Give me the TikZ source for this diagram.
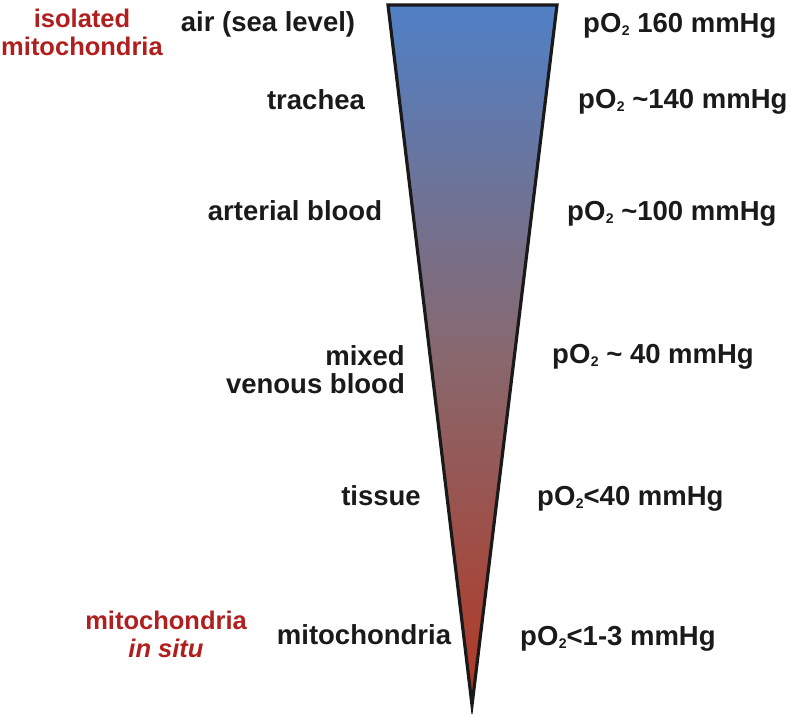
\documentclass[tikz,border=0pt]{standalone}
\usepackage{fontspec}
\setmainfont{Liberation Sans}
\definecolor{topblue}{RGB}{80,128,198}
\definecolor{midtone}{RGB}{136,104,110}
\definecolor{botred}{RGB}{178,56,36}
\definecolor{labred}{RGB}{176,30,30}
\definecolor{labblack}{RGB}{26,26,26}
\tikzset{
  lab/.style={font=\fontsize{27.5}{29}\selectfont\bfseries, text=labblack, inner sep=0pt},
  redlab/.style={lab, font=\fontsize{25.5}{29}\selectfont\bfseries, text=labred, align=center},
  funnel/.style={draw=black!90, line width=3.2pt, line join=miter, top color=topblue, bottom color=botred, middle color=midtone}
}
\newcommand{\poo}{pO\kern0.5pt\raisebox{-3pt}{\fontsize{14}{14}\selectfont 2}}
\begin{document}
\begin{tikzpicture}[x=1pt,y=-1pt]
\useasboundingbox (0,0) rectangle (791,713);
\coordinate (tl) at (388,5);
\coordinate (tr) at (557,5);
\coordinate (apex) at (472,705);
\path[funnel] (tl) -- (tr) -- (apex) -- cycle;
% left labels
\node[redlab, anchor=base] (iso) at (82,55) {isolated\\[-1pt]mitochondria};
\node[lab, anchor=base] (air) at (268,31) {air (sea level)};
\node[lab, anchor=base] (tra) at (316,109) {trachea};
\node[lab, anchor=base] (art) at (295,220) {arterial blood};
\node[lab, anchor=base east, align=right] (ven) at (405,393) {mixed\\[-1pt]venous blood};
\node[lab, anchor=base] (tis) at (381,505) {tissue};
\node[lab, anchor=base] (mit) at (364,644) {mitochondria};
\node[redlab, anchor=base] (insitu) at (166,657) {mitochondria\\[-1pt]\itshape in situ};
% right labels
\node[lab, anchor=base west] (p1) at (583,32) {\poo{} 160 mmHg};
\node[lab, anchor=base west] (p2) at (578,108) {\poo{} \textasciitilde140 mmHg};
\node[lab, anchor=base west] (p3) at (567,220) {\poo{} \textasciitilde100 mmHg};
\node[lab, anchor=base west] (p4) at (552,363) {\poo{} \textasciitilde{} 40 mmHg};
\node[lab, anchor=base west] (p5) at (537,505) {\poo<40 mmHg};
\node[lab, anchor=base west] (p6) at (520,645) {\poo<1-3 mmHg};
\end{tikzpicture}
\end{document}
